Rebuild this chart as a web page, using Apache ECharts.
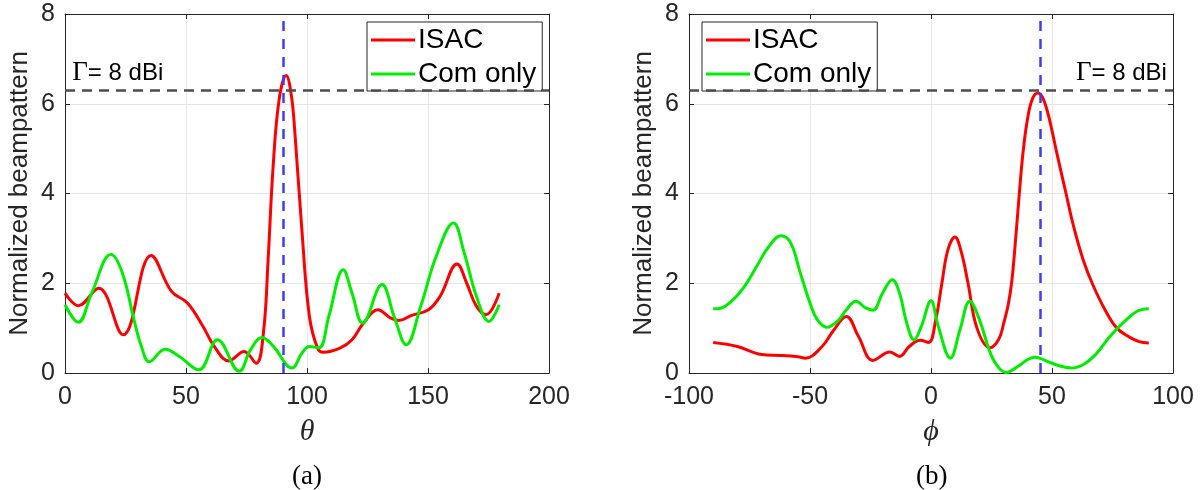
<!DOCTYPE html>
<html>
<head>
<meta charset="utf-8">
<script src="https://cdn.jsdelivr.net/npm/echarts@6/dist/echarts.min.js"></script>
<style>
  html, body { margin: 0; padding: 0; background: #fff; }
  #main { width: 1200px; height: 490px; }
</style>
</head>
<body>
<div id="main"></div>
<script>
// (a) 俯仰角 theta
var thetaIsac = [0, 5.5, 13.9, 24, 35.6, 44, 50.6, 57, 61.7, 67.7, 74, 79, 82, 84, 86, 88.5, 91.4, 93.5, 95, 98, 101, 104.3, 106.7, 113.8, 118.6, 123.3, 129.3, 134.4, 137.9, 143, 150.2, 155, 162, 166, 170, 174, 179.4];
var isacTheta = [1.78, 1.50, 1.89, 0.85, 2.62, 1.82, 1.56, 1.04, 0.59, 0.27, 0.48, 0.22, 0.9, 2.6, 4.6, 6.1, 6.63, 6.2, 5.35, 3.1, 1.26, 0.56, 0.46, 0.56, 0.74, 1.11, 1.41, 1.23, 1.17, 1.28, 1.41, 1.71, 2.43, 2.0, 1.49, 1.30, 1.78];
var thetaCom = [0, 5.5, 11, 19, 23.7, 28.5, 31.6, 34.8, 41.4, 47.4, 55.3, 63, 72, 76.7, 81.4, 86, 93.8, 98, 101, 105, 109, 115, 118.6, 123, 131, 136, 141, 147, 153.4, 160.5, 165, 170, 175.2, 179.4];
var comTheta = [1.52, 1.13, 1.78, 2.64, 2.23, 1.19, 0.59, 0.25, 0.53, 0.36, 0.07, 0.74, 0.04, 0.52, 0.79, 0.6, 0.11, 0.45, 0.59, 0.56, 1.26, 2.30, 1.78, 1.11, 1.97, 1.26, 0.63, 1.49, 2.60, 3.34, 2.67, 1.71, 1.15, 1.52];

// (b) 方位角 phi
var phiIsac = [-90, -80, -70, -62, -55, -52, -45, -40, -35, -30, -24, -17, -13, -9, -4.5, -1, 2, 4.5, 7, 9.9, 12.5, 15.3, 19, 24.4, 28, 30, 32, 33.4, 35, 36.5, 38, 40, 42, 44.2, 46, 48, 50, 52, 55.8, 59, 63, 67, 72, 76.8, 82, 86, 90];
var isacPhi = [0.68, 0.59, 0.41, 0.39, 0.36, 0.33, 0.59, 0.97, 1.26, 0.82, 0.28, 0.47, 0.37, 0.59, 0.73, 0.68, 1.2, 2.0, 2.75, 3.03, 2.7, 2.0, 1.0, 0.56, 0.75, 1.1, 1.55, 2.05, 3.0, 4.0, 4.9, 5.7, 6.12, 6.24, 6.15, 5.85, 5.4, 4.9, 4.0, 3.25, 2.5, 1.95, 1.4, 1.0, 0.8, 0.7, 0.67];
var phiCom = [-90, -85, -78, -72, -67, -62, -58, -54, -50, -47, -43, -38, -35, -31, -27, -24, -20, -16, -13, -10, -7, -4, 0, 3, 8, 12, 16, 20, 24, 27, 31, 36, 40, 43, 48, 53, 58, 63, 68, 74, 80, 85, 90];
var comPhi = [1.43, 1.49, 1.86, 2.38, 2.82, 3.06, 2.90, 2.23, 1.56, 1.19, 1.02, 1.19, 1.41, 1.60, 1.45, 1.40, 1.78, 2.08, 1.78, 1.11, 0.74, 1.04, 1.61, 1.04, 0.33, 0.97, 1.60, 1.19, 0.52, 0.19, 0.01, 0.15, 0.30, 0.35, 0.26, 0.16, 0.11, 0.19, 0.41, 0.82, 1.15, 1.37, 1.43];

var gammaLevel = 6.31;   // 8 dBi
var targetTheta = 90;
var targetPhi = 45;
var gammaPosA = [3, 6.68];
var gammaPosB = [97.5, 6.68];

function zip(xs, ys) {
  var out = [];
  for (var i = 0; i < xs.length; i++) out.push([xs[i], ys[i]]);
  return out;
}

var axisColor = '#262626';
var sans = 'Liberation Sans, Arial, sans-serif';
var serif = 'Liberation Serif, Times New Roman, serif';

function xAx(idx, min, max, name) {
  return {
    type: 'value', gridIndex: idx, min: min, max: max, interval: 50,
    name: name, nameLocation: 'middle', nameGap: 44,
    nameTextStyle: { fontFamily: serif, fontStyle: 'italic', fontSize: 30, color: axisColor },
    axisLine: { show: true, onZero: false, lineStyle: { color: axisColor } },
    axisTick: { show: true, inside: true, length: 5, lineStyle: { color: axisColor } },
    axisLabel: { fontFamily: sans, fontSize: 25, color: axisColor, margin: 12 },
    splitLine: { show: true, lineStyle: { color: '#e6e6e6' } }
  };
}
function xTop(idx, min, max) {
  return {
    type: 'value', gridIndex: idx, min: min, max: max, interval: 50, position: 'top',
    axisLine: { show: true, onZero: false, lineStyle: { color: axisColor } },
    axisTick: { show: true, inside: true, length: 5, lineStyle: { color: axisColor } },
    axisLabel: { show: false }, splitLine: { show: false }
  };
}
function yAx(idx) {
  return {
    type: 'value', gridIndex: idx, min: 0, max: 8, interval: 2, position: 'left',
    name: 'Normalized beampattern', nameLocation: 'middle', nameGap: 32,
    nameTextStyle: { fontFamily: sans, fontSize: 26, color: axisColor },
    axisLine: { show: true, onZero: false, lineStyle: { color: axisColor } },
    axisTick: { show: true, inside: true, length: 5, lineStyle: { color: axisColor } },
    axisLabel: { fontFamily: sans, fontSize: 25, color: axisColor, margin: 10 },
    splitLine: { show: true, lineStyle: { color: '#e6e6e6' } }
  };
}
function yRight(idx) {
  return {
    type: 'value', gridIndex: idx, min: 0, max: 8, interval: 2, position: 'right',
    axisLine: { show: true, onZero: false, lineStyle: { color: axisColor } },
    axisTick: { show: true, inside: true, length: 5, lineStyle: { color: axisColor } },
    axisLabel: { show: false }, splitLine: { show: false }
  };
}

function marks(target, gpos, side) {
  return {
    markLine: {
      silent: true, symbol: 'none', label: { show: false },
      data: [
        { yAxis: gammaLevel, lineStyle: { color: '#4d4d4d', type: [10, 7], width: 2.5 } },
        { xAxis: target, lineStyle: { color: '#3c3cff', type: [10, 8], width: 2.5 } }
      ]
    },
    markPoint: {
      silent: true, symbol: 'circle', symbolSize: 0,
      data: [{ coord: gpos }],
      label: {
        show: true, position: side, distance: 0,
        formatter: '{g|Γ}{t|= 8 dBi}',
        rich: {
          g: { fontFamily: serif, fontSize: 27, color: '#000' },
          t: { fontFamily: sans, fontSize: 24, color: '#000' }
        }
      }
    }
  };
}

function lineSeries(name, color, xi, yi, data, extra) {
  var s = {
    name: name, type: 'line', xAxisIndex: xi, yAxisIndex: yi,
    data: data, smooth: 0.4, symbol: 'none',
    lineStyle: { color: color, width: 3 }, itemStyle: { color: color },
    z: 3
  };
  if (extra) { s.markLine = extra.markLine; s.markPoint = extra.markPoint; }
  return s;
}

function legendAt(left) {
  return {
    orient: 'vertical', left: left, top: 22,
    data: ['ISAC', 'Com only'],
    icon: 'rect', itemWidth: 44, itemHeight: 3, itemGap: 6,
    padding: [4, 6, 3, 4],
    borderColor: axisColor, borderWidth: 1, backgroundColor: '#fff',
    textStyle: { fontFamily: sans, fontSize: 28, color: '#000', padding: [0, 0, 0, -2] },
    selectedMode: false
  };
}

var chart = echarts.init(document.getElementById('main'));
chart.setOption({
  animation: false,
  backgroundColor: '#fff',
  grid: [
    { left: 65, width: 484, top: 14, height: 359 },
    { left: 689, width: 484, top: 14, height: 359 }
  ],
  legend: [legendAt(367), legendAt(702)],
  xAxis: [xAx(0, 0, 200, 'θ'), xAx(1, -100, 100, 'ϕ'), xTop(0, 0, 200), xTop(1, -100, 100)],
  yAxis: [yAx(0), yAx(1), yRight(0), yRight(1)],
  series: [
    lineSeries('ISAC', '#ff0000', 0, 0, zip(thetaIsac, isacTheta), marks(targetTheta, gammaPosA, 'right')),
    lineSeries('Com only', '#00ee00', 0, 0, zip(thetaCom, comTheta)),
    lineSeries('ISAC', '#ff0000', 1, 1, zip(phiIsac, isacPhi), marks(targetPhi, gammaPosB, 'left')),
    lineSeries('Com only', '#00ee00', 1, 1, zip(phiCom, comPhi))
  ],
  graphic: [
    { type: 'text', left: 65 + 242 - 15, top: 463, style: { text: '(a)', font: '27px ' + serif, fill: '#000' } },
    { type: 'text', left: 689 + 242 - 15, top: 463, style: { text: '(b)', font: '27px ' + serif, fill: '#000' } }
  ]
});
</script>
</body>
</html>
